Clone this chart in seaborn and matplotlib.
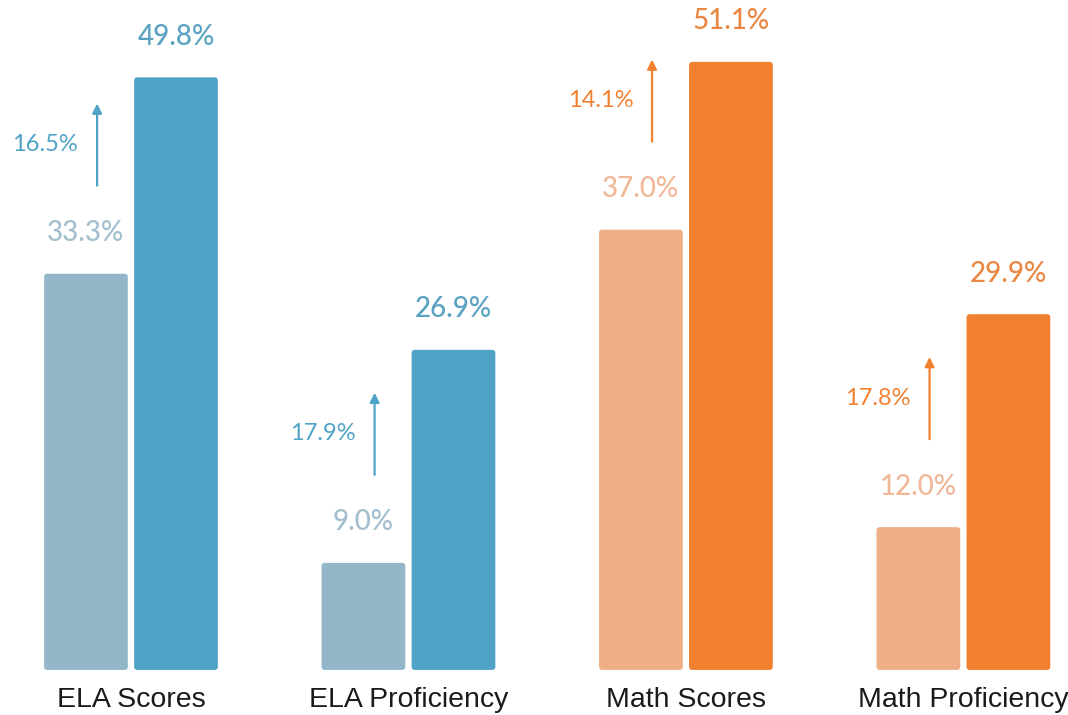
import matplotlib
matplotlib.use("Agg")
import matplotlib.pyplot as plt
from matplotlib.patches import FancyBboxPatch
import pandas as pd
import seaborn as sns

# data
categories = ["ELA Scores", "ELA Proficiency", "Math Scores", "Math Proficiency"]
before = [33.3, 9.0, 37.0, 12.0]
after = [49.8, 26.9, 51.1, 29.9]
change = [16.5, 17.9, 14.1, 17.8]
subject = ["ELA", "ELA", "Math", "Math"]

palettes = {
    "ELA": {"light": "#93b7c8", "dark": "#4fa3c7", "light_txt": "#a3bfcd", "dark_txt": "#5aa2c2"},
    "Math": {"light": "#efaf86", "dark": "#f18131", "light_txt": "#f0b898", "dark_txt": "#ea8843"},
}

df = pd.DataFrame({
    "category": categories * 2,
    "value": before + after,
    "period": ["before"] * 4 + ["after"] * 4,
    "subject": subject * 2,
})

sns.set_theme(style="white")
plt.rcParams["font.family"] = ["Lato", "DejaVu Sans"]

fig = plt.figure(figsize=(10.68, 7.15), dpi=100)
ax = fig.add_axes([0, 0.063, 1, 0.937])

for subj, pal in palettes.items():
    sns.barplot(
        data=df[df["subject"] == subj],
        x="category", y="value", hue="period",
        order=categories, hue_order=["before", "after"],
        palette=[pal["light"], pal["dark"]], saturation=1,
        width=0.649, gap=0.07, errorbar=None,
        legend=False, ax=ax,
    )

ax.set_xlim(-0.472, 3.377)
ax.set_ylim(0, 56.3)

# slightly rounded bar corners
for p in list(ax.patches):
    x, y = p.get_x(), p.get_y()
    w, h = p.get_width(), p.get_height()
    rb = FancyBboxPatch((x, y), w, h, boxstyle="round,pad=0,rounding_size=0.011",
                        mutation_aspect=23.3, facecolor=p.get_facecolor(),
                        edgecolor="none")
    p.set_visible(False)
    ax.add_patch(rb)

off = 0.162
for i, cat in enumerate(categories):
    pal = palettes[subject[i]]
    # value labels
    ax.text(i - off, before[i] + 3.4, f"{before[i]:.1f}%", ha="center", va="center",
            fontsize=20, color=pal["light_txt"], fontweight="medium")
    ax.text(i + off, after[i] + 3.4, f"{after[i]:.1f}%", ha="center", va="center",
            fontsize=20, color=pal["dark_txt"], fontweight="medium")
    # change arrow
    ax_x = i - 0.122
    y0 = before[i] + 7.4
    y1 = y0 + 6.9
    ax.annotate("", xy=(ax_x, y1), xytext=(ax_x, y0),
                arrowprops=dict(arrowstyle="-|>", color=pal["dark"], lw=1.6,
                                mutation_scale=14, shrinkA=0, shrinkB=0))
    ax.text(ax_x - 0.068, (y0 + y1) / 2, f"{change[i]:.1f}%", ha="right", va="center",
            fontsize=17, color=pal["dark"])

ax.set_xlabel("")
ax.set_ylabel("")
ax.set_yticks([])
ax.tick_params(axis="x", length=0, pad=12)
for lbl in ax.get_xticklabels():
    lbl.set_fontfamily(["Liberation Sans", "DejaVu Sans"])
    lbl.set_fontsize(20.5)
    lbl.set_color("#1a1a1a")
sns.despine(ax=ax, left=True, bottom=True)

fig.savefig("out.png", dpi=100)
